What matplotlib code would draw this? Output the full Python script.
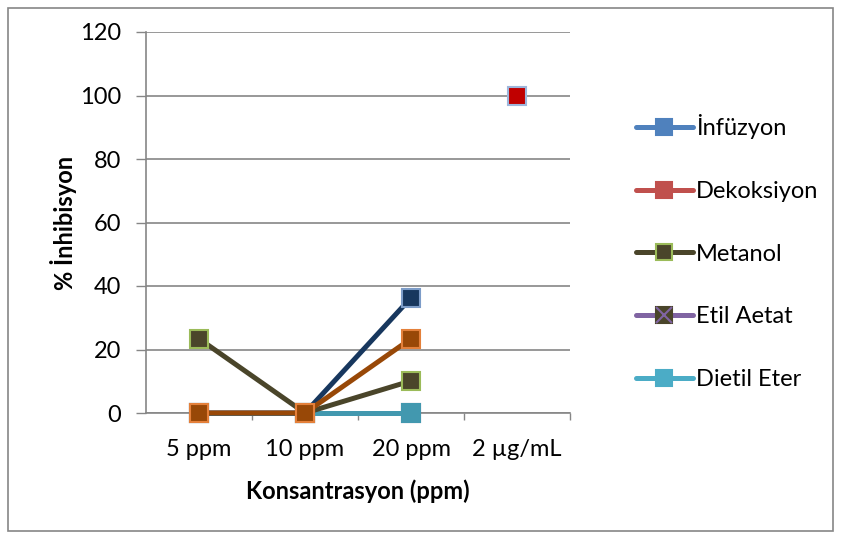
import numpy as np
import matplotlib
matplotlib.use("Agg")
import matplotlib.pyplot as plt
from matplotlib.lines import Line2D
from matplotlib.patches import Rectangle
from matplotlib.legend_handler import HandlerTuple

plt.rcParams['font.family'] = ['Lato', 'DejaVu Sans']

categories = ["5 ppm", "10 ppm", "20 ppm", "2 µg/mL"]
infuzyon = [0, 0, 36.3, np.nan]
dekoksiyon = [0, 0, 23.4, np.nan]
metanol = [23.4, 0, 10.1, np.nan]
etil_aetat = [0, 0, 0, np.nan]
dietil_eter = [0, 0, 0, np.nan]
kontrol = [np.nan, np.nan, np.nan, 100]
series_names = ["İnfüzyon", "Dekoksiyon", "Metanol", "Etil Aetat", "Dietil Eter"]

W, H = 841, 538
fig = plt.figure(figsize=(W / 100, H / 100), dpi=100)
ax = fig.add_axes([146 / W, 1 - 413 / H, (570 - 146) / W, (413 - 32) / H])

x = np.arange(len(categories))
lw = 3.6
ms = 12.5
fs = 17

def draw(vals, line, fill, edge, z):
    ax.plot(x, vals, color=line, lw=lw, marker='s', ms=ms, mfc=fill, mec=edge,
            mew=1.5, zorder=z, solid_capstyle='round', clip_on=False)

draw(etil_aetat, '#8064A2', '#4A452A', '#8064A2', 3)
draw(dietil_eter, '#4298AF', '#4298AF', '#4298AF', 4)
draw(metanol, '#4A452A', '#4A452A', '#9BBB59', 5)
draw(infuzyon, '#17375E', '#17375E', '#7C9CC8', 6)
draw(dekoksiyon, '#984807', '#984807', '#E4803A', 7)
draw(kontrol, '#C00000', '#C00000', '#9DB6DB', 8)

ax.set_xlim(-0.5, 3.5)
ax.set_ylim(0, 120)
ax.set_yticks(np.arange(0, 121, 20))
ax.set_xticks(x)
ax.set_xticklabels(categories)
ax.set_xticks(np.arange(0.5, 3.6, 1), minor=True)
ax.tick_params(axis='x', which='major', length=0, pad=19, labelsize=fs)
ax.tick_params(axis='x', which='minor', length=5, width=1, color='#868686', direction='out')
ax.tick_params(axis='y', length=7, width=1, color='#868686', pad=11, labelsize=fs)
ax.yaxis.grid(True, color='#868686', lw=1.2)
ax.set_axisbelow(True)
for s in ['top', 'right']:
    ax.spines[s].set_visible(False)
ax.spines['left'].set_color('#868686')
ax.spines['bottom'].set_color('#868686')
ax.spines['left'].set_linewidth(1.2)
ax.spines['bottom'].set_linewidth(1.2)

ax.set_xlabel("Konsantrasyon (ppm)", fontsize=fs, fontweight='bold', labelpad=14)
ax.set_ylabel("% İnhibisyon", fontsize=fs, fontweight='bold', labelpad=2)

def proxy(line, fill, edge, marker='s'):
    return Line2D([], [], color=line, lw=lw, marker=marker, ms=ms - 1, mfc=fill, mec=edge,
                  mew=1.5, solid_capstyle='round')

handles = [
    proxy('#4F81BD', '#4F81BD', '#4F81BD'),
    proxy('#C0504D', '#C0504D', '#C0504D'),
    proxy('#4A452A', '#4A452A', '#9BBB59'),
    (proxy('#8064A2', '#4A452A', '#4A452A'),
     Line2D([], [], lw=0, marker='x', ms=ms - 1, mec='#8064A2', mew=1.5)),
    proxy('#4BACC6', '#4BACC6', '#4BACC6'),
]
fig.legend(handles, series_names, loc='upper left', bbox_to_anchor=(636 / W, 1 - 114 / H),
           frameon=False, fontsize=fs, labelspacing=1.77, handlelength=2.4,
           handletextpad=0.15, borderpad=0, borderaxespad=0,
           handler_map={tuple: HandlerTuple(ndivide=1, pad=0)})

fig.patches.append(Rectangle((8 / W, 1 - 531 / H), (833 - 8) / W, (531 - 8) / H,
                             transform=fig.transFigure, fill=False, ec='#868686', lw=1.2))

fig.savefig("out.png", dpi=100)
